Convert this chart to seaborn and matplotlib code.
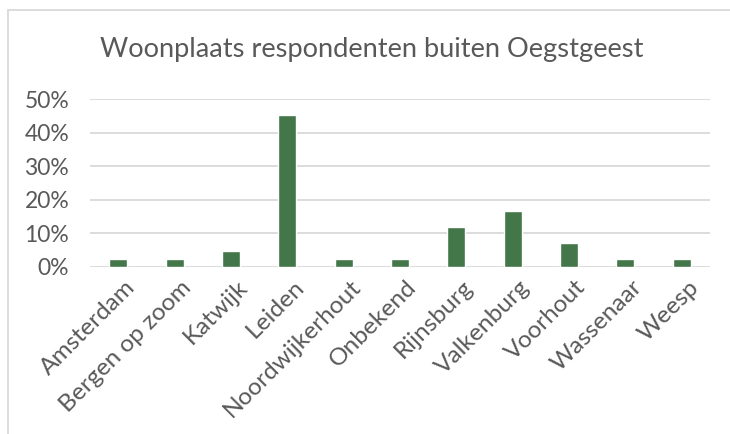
import pandas as pd
import matplotlib.pyplot as plt
import matplotlib.patches as mpatches
import matplotlib.transforms as mtrans
from matplotlib.ticker import PercentFormatter
import seaborn as sns

# Woonplaatsen en aandeel respondenten
plaatsen = ['Amsterdam', 'Bergen op zoom', 'Katwijk', 'Leiden', 'Noordwijkerhout',
            'Onbekend', 'Rijnsburg', 'Valkenburg', 'Voorhout', 'Wassenaar', 'Weesp']
aandeel = [0.0238, 0.0238, 0.0476, 0.4524, 0.0238,
           0.0238, 0.1190, 0.1667, 0.0714, 0.0238, 0.0238]
y_ticks = [0.0, 0.1, 0.2, 0.3, 0.4, 0.5]
titel = 'Woonplaats respondenten buiten Oegstgeest'

groen = '#43774A'
tekst = '#595959'
grid = '#D9D9D9'


def plot_woonplaats(output_path):
    df = pd.DataFrame({'Woonplaats': plaatsen, 'Aandeel': aandeel})

    sns.set_style('white')
    plt.rcParams['font.family'] = ['Lato', 'DejaVu Sans']

    fig = plt.figure(figsize=(7.3, 4.34), dpi=100)
    ax = fig.add_axes([90 / 730, 1 - 266.7 / 434, 620 / 730, (266.7 - 99) / 434])

    sns.barplot(data=df, x='Woonplaats', y='Aandeel', color=groen,
                width=0.32, saturation=1, ax=ax, zorder=3)

    ax.set_xlim(-0.5, len(plaatsen) - 0.5)
    ax.set_ylim(0, 0.5)
    ax.set_yticks(y_ticks)
    ax.yaxis.set_major_formatter(PercentFormatter(1.0, decimals=0))
    ax.grid(axis='y', color=grid, linewidth=1.3, zorder=0)
    ax.set_axisbelow(True)
    for s in ax.spines.values():
        s.set_visible(False)

    ax.set_xlabel('')
    ax.set_ylabel('')
    ax.tick_params(axis='y', length=0, pad=15, labelsize=16.5, labelcolor=tekst)
    ax.tick_params(axis='x', length=0, pad=7, labelsize=17.6, labelcolor=tekst)

    # labels schuin, einde net onder de balk
    offset = mtrans.ScaledTranslation(6 / 100, 0, fig.dpi_scale_trans)
    for lbl in ax.get_xticklabels():
        lbl.set_rotation(45)
        lbl.set_ha('right')
        lbl.set_va('top')
        lbl.set_rotation_mode('anchor')
        lbl.set_transform(lbl.get_transform() + offset)

    fig.text(372 / 730, 1 - 50 / 434, titel, ha='center', va='center',
             fontsize=19.6, color=tekst)

    # rand om de grafiek
    fig.patches.append(mpatches.Rectangle((8 / 730, -0.1), 1.1, 1 - 10 / 434 + 0.1,
                                          transform=fig.transFigure, fill=False,
                                          edgecolor=grid, linewidth=1.3))

    fig.savefig(output_path, dpi=100)
    plt.close(fig)


if __name__ == '__main__':
    plot_woonplaats('out.png')
